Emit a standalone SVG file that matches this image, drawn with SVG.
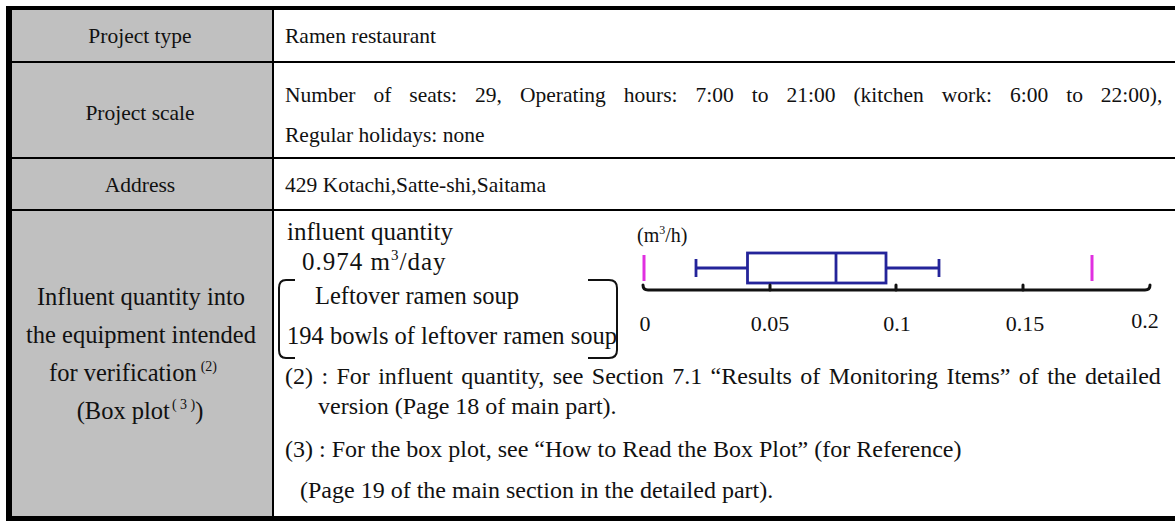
<svg xmlns="http://www.w3.org/2000/svg" width="1175" height="521" viewBox="0 0 1175 521">
  <style>
    .t { font-family: "Liberation Serif", "Times New Roman", serif; fill: #111; }
    .s { font-size: 21.5px; }
    .m { font-size: 24px; }
    .l { font-size: 24.5px; }
    .c { text-anchor: middle; }
    .head { fill: #c0c0c0; }
    .rule { stroke: #000; stroke-width: 2; fill: none; }
    .frame { stroke: #000; fill: none; }
    .box { stroke: #24249a; stroke-width: 2.8; fill: none; }
    .out { stroke: #e030e0; stroke-width: 3; }
    .axis { stroke: #111; stroke-width: 3; fill: none; stroke-linecap: round; }
    .brk { stroke: #111; stroke-width: 2; fill: none; }
    .tick { font-family: "Liberation Serif", "Times New Roman", serif; font-size: 22px; fill: #111; text-anchor: middle; }
  </style>

  <!-- cell backgrounds -->
  <rect x="0" y="0" width="1175" height="521" fill="#fff"/>
  <rect class="head" x="9" y="9" width="264" height="509"/>

  <!-- row: project type -->
  <g id="row-type">
    <text class="t s c" x="140" y="43">Project type</text>
    <text class="t s" x="285" y="43">Ramen restaurant</text>
  </g>

  <!-- row: project scale -->
  <g id="row-scale">
    <text class="t s c" x="140" y="120">Project scale</text>
    <text class="t s" x="285" y="102" word-spacing="12.6">Number of seats: 29, Operating hours: 7:00 to 21:00 (kitchen work: 6:00 to 22:00),</text>
    <text class="t s" x="285" y="142">Regular holidays: none</text>
  </g>

  <!-- row: address -->
  <g id="row-address">
    <text class="t s c" x="140" y="192">Address</text>
    <text class="t s" x="285" y="192">429 Kotachi,Satte-shi,Saitama</text>
  </g>

  <!-- row: influent quantity -->
  <g id="row-influent">
    <text class="t l c" x="141" y="305">Influent quantity into</text>
    <text class="t l c" x="141" y="343">the equipment intended</text>
    <text class="t l c" x="133" y="381">for verification<tspan font-size="14" dy="-10" dx="4">(2)</tspan></text>
    <text class="t l c" x="140" y="419">(Box plot<tspan font-size="14" dy="-10" dx="2">( 3 )</tspan><tspan dy="10">)</tspan></text>

    <g id="influent-summary">
      <text class="t" font-size="25" x="287" y="240">influent quantity</text>
      <text class="t" font-size="25" letter-spacing="1" x="302" y="270">0.974 m<tspan font-size="15" dy="-10">3</tspan><tspan dy="10">/day</tspan></text>
      <text class="t l" x="315" y="304">Leftover ramen soup</text>
      <text class="t l" x="287" y="344">194 bowls of leftover ramen soup</text>
      <path class="brk" d="M295 280 H286 Q279 280 279 288 V350 Q279 358 286 358 H295"/>
      <path class="brk" d="M588 280 H609 Q617 280 617 288 V350 Q617 358 609 358 H588"/>
    </g>

    <g id="boxplot">
      <text class="t" font-size="20" x="637" y="242">(m<tspan font-size="12" dy="-8">3</tspan><tspan dy="8">/h)</tspan></text>
      <!-- outliers -->
      <line class="out" x1="644" y1="255" x2="644" y2="281"/>
      <line class="out" x1="1092" y1="255" x2="1092" y2="281"/>
      <!-- whiskers and box -->
      <line class="box" x1="696" y1="268" x2="747.5" y2="268"/>
      <line class="box" x1="696" y1="259" x2="696" y2="277"/>
      <line class="box" x1="886" y1="268" x2="939" y2="268"/>
      <line class="box" x1="939" y1="259" x2="939" y2="277"/>
      <rect class="box" x="747.5" y="253" width="138.5" height="30"/>
      <line class="box" x1="836" y1="253" x2="836" y2="283"/>
      <!-- axis with ticks -->
      <path class="axis" d="M643 285 Q643 290 648 290 H1145 Q1150 290 1150 285"/>
      <path class="axis" d="M770 285 V290 M896 285 V290 M1023 285 V290"/>
      <text class="tick" x="645" y="331">0</text>
      <text class="tick" x="770" y="331">0.05</text>
      <text class="tick" x="897" y="331">0.1</text>
      <text class="tick" x="1025" y="331">0.15</text>
      <text class="tick" x="1145" y="328">0.2</text>
    </g>

    <g id="notes">
      <text class="t m" x="285" y="384" word-spacing="2.4">(2) : For influent quantity, see Section 7.1 “Results of Monitoring Items” of the detailed</text>
      <text class="t m" x="318" y="414">version (Page 18 of main part).</text>
      <text class="t m" x="285" y="457">(3) :  For the box plot, see “How to Read the Box Plot” (for Reference)</text>
      <text class="t m" x="300" y="498">(Page 19 of the main section in the detailed part).</text>
    </g>
  </g>

  <!-- table rules -->
  <g id="rules">
    <line class="rule" x1="9" y1="62" x2="1175" y2="62"/>
    <line class="rule" x1="9" y1="158" x2="1175" y2="158"/>
    <line class="rule" x1="9" y1="210" x2="1175" y2="210"/>
    <line class="rule" x1="273" y1="8" x2="273" y2="518"/>
    <line class="frame" stroke-width="4" x1="6" y1="8" x2="1175" y2="8"/>
    <line class="frame" stroke-width="6" x1="9" y1="6" x2="9" y2="521"/>
    <line class="frame" stroke-width="5" x1="6" y1="518.5" x2="1175" y2="518.5"/>
  </g>
</svg>
